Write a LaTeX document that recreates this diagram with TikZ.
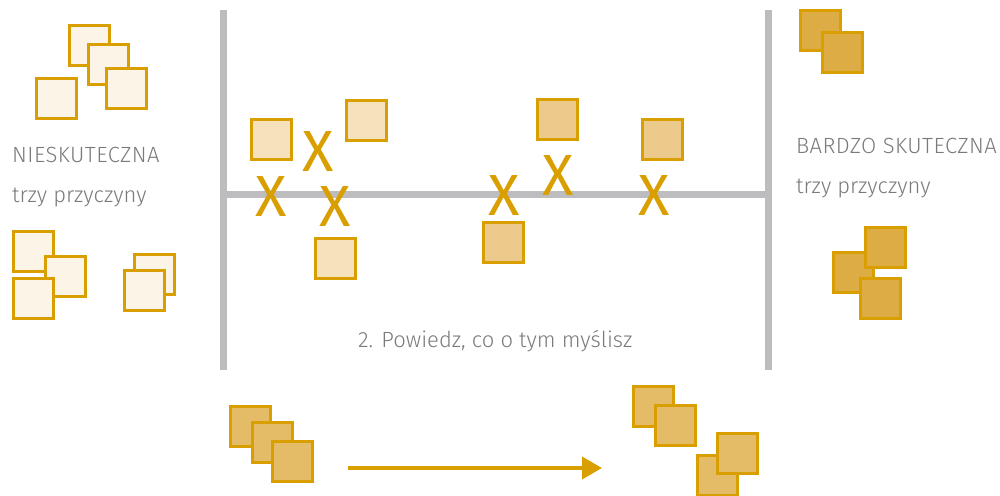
\documentclass[tikz,border=0pt]{standalone}
\usepackage{fontspec}
\setmainfont{Fira Sans}[UprightFont=* Light]
\newfontfamily\capsfont{Fira Sans}[UprightFont=* Light, LetterSpace=2]
\newfontfamily\xfont{Fira Sans}
\usetikzlibrary{arrows.meta}
\definecolor{gold}{RGB}{217,158,0}
\definecolor{fillA}{RGB}{251,244,231}
\definecolor{fillB}{RGB}{245,225,188}
\definecolor{fillC}{RGB}{235,202,140}
\definecolor{fillD}{RGB}{221,172,69}
\definecolor{fillE}{RGB}{228,187,103}
\definecolor{rule}{RGB}{189,189,191}
\definecolor{txt}{RGB}{122,122,122}
\tikzset{
  sq/.style={draw=gold, line width=3pt, minimum size=40pt, inner sep=0pt, outer sep=0pt},
  sqA/.style={sq, fill=fillA},
  sqB/.style={sq, fill=fillB},
  sqC/.style={sq, fill=fillC},
  sqD/.style={sq, fill=fillD},
  sqE/.style={sq, fill=fillE},
  xmark/.style={text=gold, font=\xfont\fontsize{58}{58}\selectfont, inner sep=0pt},
  lbl/.style={text=txt, font=\fontsize{22}{24}\selectfont, inner sep=0pt, anchor=base west},
  caplbl/.style={lbl, font=\capsfont\fontsize{22}{24}\selectfont},
  rulebar/.style={draw=rule, line width=7pt},
}
\begin{document}
\begin{tikzpicture}[x=1pt, y=-1pt]
\useasboundingbox (0,0) rectangle (1000,495);

% frame: two posts and the scale bar
\coordinate (lt) at (223.5,10);
\coordinate (lb) at (223.5,370);
\coordinate (rt) at (768,10);
\coordinate (rb) at (768,370);
\coordinate (ml) at (223.5,194);
\coordinate (mr) at (768,194);
\draw[rulebar] (lt) -- (lb);
\draw[rulebar] (rt) -- (rb);
\draw[rulebar] (ml) -- (mr);

% left column
\node[sqA] (a1) at (89.5,45.5) {};
\node[sqA] (a2) at (108,64.5) {};
\node[sqA] (a3) at (126,88.5) {};
\node[sqA] (a4) at (56.5,98) {};
\node[caplbl] (nies) at (12,162) {NIESKUTECZNA};
\node[lbl] (tpl) at (12,202) {trzy przyczyny};
\node[sqA] (a5) at (33,251) {};
\node[sqA] (a6) at (65,276) {};
\node[sqA] (a7) at (33,298.5) {};
\node[sqA] (a8) at (154.5,274) {};
\node[sqA] (a9) at (144.5,290.5) {};

% squares and marks on the scale
\node[sqB] (m1) at (271.5,139.5) {};
\node[sqB] (m2) at (366.5,120.5) {};
\node[sqB] (m3) at (335,258.5) {};
\node[sqC] (m4) at (503.5,242.5) {};
\node[sqC] (m5) at (557.5,119) {};
\node[sqC] (m6) at (662.5,139.5) {};
\node[xmark] (x1) at (271,197) {X};
\node[xmark] (x2) at (318,152) {X};
\node[xmark] (x3) at (335,207) {X};
\node[xmark] (x4) at (504,196) {X};
\node[xmark] (x5) at (558,176) {X};
\node[xmark] (x6) at (654,196) {X};
\node[lbl] (pow) at (358,347) {2. Powiedz, co o tym myślisz};

% right column
\node[sqD] (r1) at (820.5,30.5) {};
\node[sqD] (r2) at (842.5,52.5) {};
\node[caplbl] (bard) at (796,153) {BARDZO SKUTECZNA};
\node[lbl] (tpr) at (796,193) {trzy przyczyny};
\node[sqD] (r3) at (853,272) {};
\node[sqD] (r4) at (885,247) {};
\node[sqD] (r5) at (880.5,298.5) {};

% bottom row
\node[sqE] (b1) at (250.5,426.5) {};
\node[sqE] (b2) at (272.5,442) {};
\node[sqE] (b3) at (292.5,461.5) {};
\node[sqE] (c1) at (653.5,406) {};
\node[sqE] (c2) at (675,425.5) {};
\node[sqE] (c3) at (717,475.5) {};
\node[sqE] (c4) at (737.5,453.5) {};
\coordinate (as) at (348,468);
\coordinate (ae) at (602,468);
\draw[draw=gold, line width=4pt, -{Triangle[length=20pt,width=22pt]}] (as) -- (ae);
\end{tikzpicture}
\end{document}
